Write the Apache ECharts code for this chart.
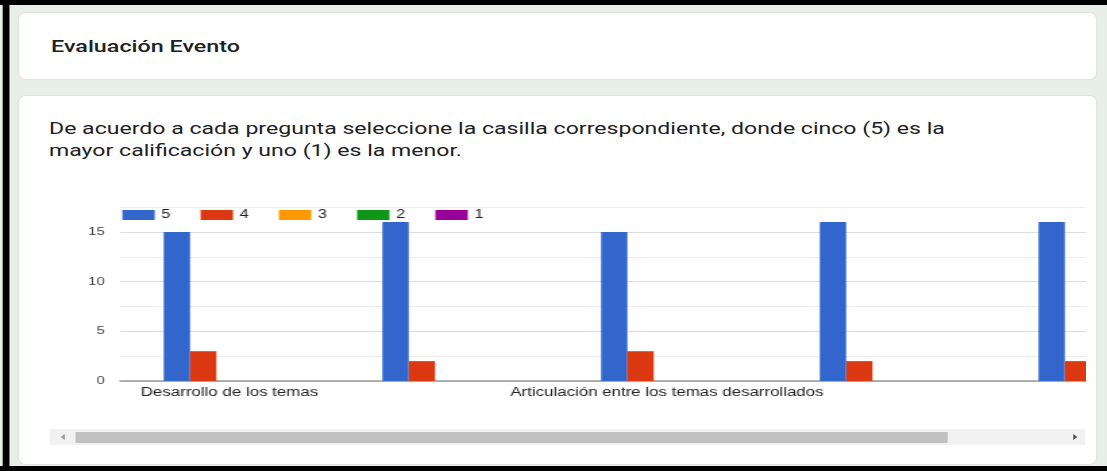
<!DOCTYPE html>
<html>
<head>
<meta charset="utf-8">
<script src="https://cdn.jsdelivr.net/npm/echarts@6/dist/echarts.min.js"></script>
<style>
    html, body { margin: 0; padding: 0; width: 1107px; height: 471px; overflow: hidden; background: #fff; }
    /* the screenshot is stretched sideways, so the page is laid out narrow and scaled */
    #page { position: absolute; left: 0; top: 0; width: 820px; height: 471px; background: #e7efe8;
            transform: scaleX(1.35); transform-origin: 0 0; font-family: Roboto, sans-serif; color: #202124; }
    .black { position: absolute; background: #000; }
    .card { position: absolute; left: 12.6px; width: 800.5px; background: #fff; border: 1px solid #dde5de;
            border-radius: 6px / 8px; box-sizing: border-box; }
    .titulo { position: absolute; left: 37.8px; top: 35px; font-size: 17.3px; font-weight: 500; line-height: 22px; }
    .pregunta { position: absolute; left: 36.3px; top: 117px; font-size: 17.1px; line-height: 22px; }
    #clip { position: absolute; left: 37px; top: 185px; width: 767px; height: 225px; overflow: hidden; }
    #chart { width: 900px; height: 225px; }
    .track { position: absolute; left: 37px; top: 429px; width: 766.7px; height: 16px; background: #f1f1f1; }
    .thumb { position: absolute; left: 55.6px; top: 432px; width: 646.5px; height: 11px; background: #c1c1c1; }
    .arrow { position: absolute; top: 434px; width: 0; height: 0; border-top: 3px solid transparent; border-bottom: 3px solid transparent; }
</style>
</head>
<body>
<div id="page">
    <div class="black" style="left:1.5px;top:0;width:5.2px;height:471px;"></div>
    <div class="black" style="left:0;top:0;width:820px;height:5px;"></div>
    <div class="black" style="left:0;top:466px;width:820px;height:5px;"></div>

    <div class="card" style="top:12px;height:68px;"></div>
    <div class="titulo">Evaluación Evento</div>

    <div class="card" style="top:95px;height:370px;"></div>
    <div class="pregunta">De acuerdo a cada pregunta seleccione la casilla correspondiente, donde cinco (5) es la<br>mayor calificación y uno (1) es la menor.</div>

    <div id="clip"><div id="chart"></div></div>

    <div class="track"></div>
    <div class="thumb"></div>
    <div class="arrow" style="left:44.5px;border-right:3px solid #9a9a9a;"></div>
    <div class="arrow" style="left:795px;border-left:3px solid #505050;"></div>
</div>

<script>
    // preguntas (solo se ven algunas etiquetas en la captura)
    var categorias = ['Desarrollo de los temas', 'Claridad de la exposición', 'Articulación entre los temas desarrollados', 'Metodología utilizada', 'Material de apoyo']
    var calificaciones = ['5', '4', '3', '2', '1']
    var cinco = [15, 16, 15, 16, 16]
    var cuatro = [3, 2, 3, 2, 2]
    var tres = [0, 0, 0, 0, 0]
    var dos = [0, 0, 0, 0, 0]
    var uno = [0, 0, 0, 0, 0]
    var colores = ['#3366cc', '#dc3912', '#ff9900', '#109618', '#990099']
    var valores = [cinco, cuatro, tres, dos, uno]

    var fuente = 'Arial, "Liberation Sans", sans-serif'
    var myChart = echarts.init(document.getElementById('chart'))

    var series = []
    for (var i = 0; i < calificaciones.length; i++) {
        series.push({
            name: calificaciones[i],
            type: 'bar',
            barWidth: 19.5,
            barGap: '0%',
            data: valores[i],
            itemStyle: { color: colores[i] }
        })
    }

    var option = {
        animation: false,
        color: colores,
        legend: {
            data: calificaciones,
            left: 48.6,
            top: 19,
            itemWidth: 24,
            itemHeight: 10,
            itemGap: 22.3,
            icon: 'rect',
            textStyle: { fontFamily: fuente, fontSize: 12, color: '#222' }
        },
        grid: {
            left: 52,
            top: 22.2,
            width: 810,
            height: 173.8
        },
        xAxis: {
            type: 'category',
            data: categorias,
            axisTick: { show: false },
            axisLine: { lineStyle: { color: '#999', width: 1.5 } },
            axisLabel: {
                fontFamily: fuente,
                fontSize: 12.5,
                color: '#222',
                margin: 5,
                // google ocultó las etiquetas que no caben
                interval: function (index) { return index === 0 || index === 2 }
            }
        },
        yAxis: {
            type: 'value',
            min: 0,
            max: 17.5,
            interval: 2.5,
            axisLine: { show: false },
            axisTick: { show: false },
            axisLabel: {
                fontFamily: fuente,
                fontSize: 11,
                color: '#444',
                margin: 11.5,
                formatter: function (v) { return v % 5 === 0 ? v : '' }
            },
            splitLine: { lineStyle: { color: ['#dcdcdc', '#ececec'], width: 1 } }
        },
        series: series
    }
    myChart.setOption(option)
</script>
</body>
</html>
